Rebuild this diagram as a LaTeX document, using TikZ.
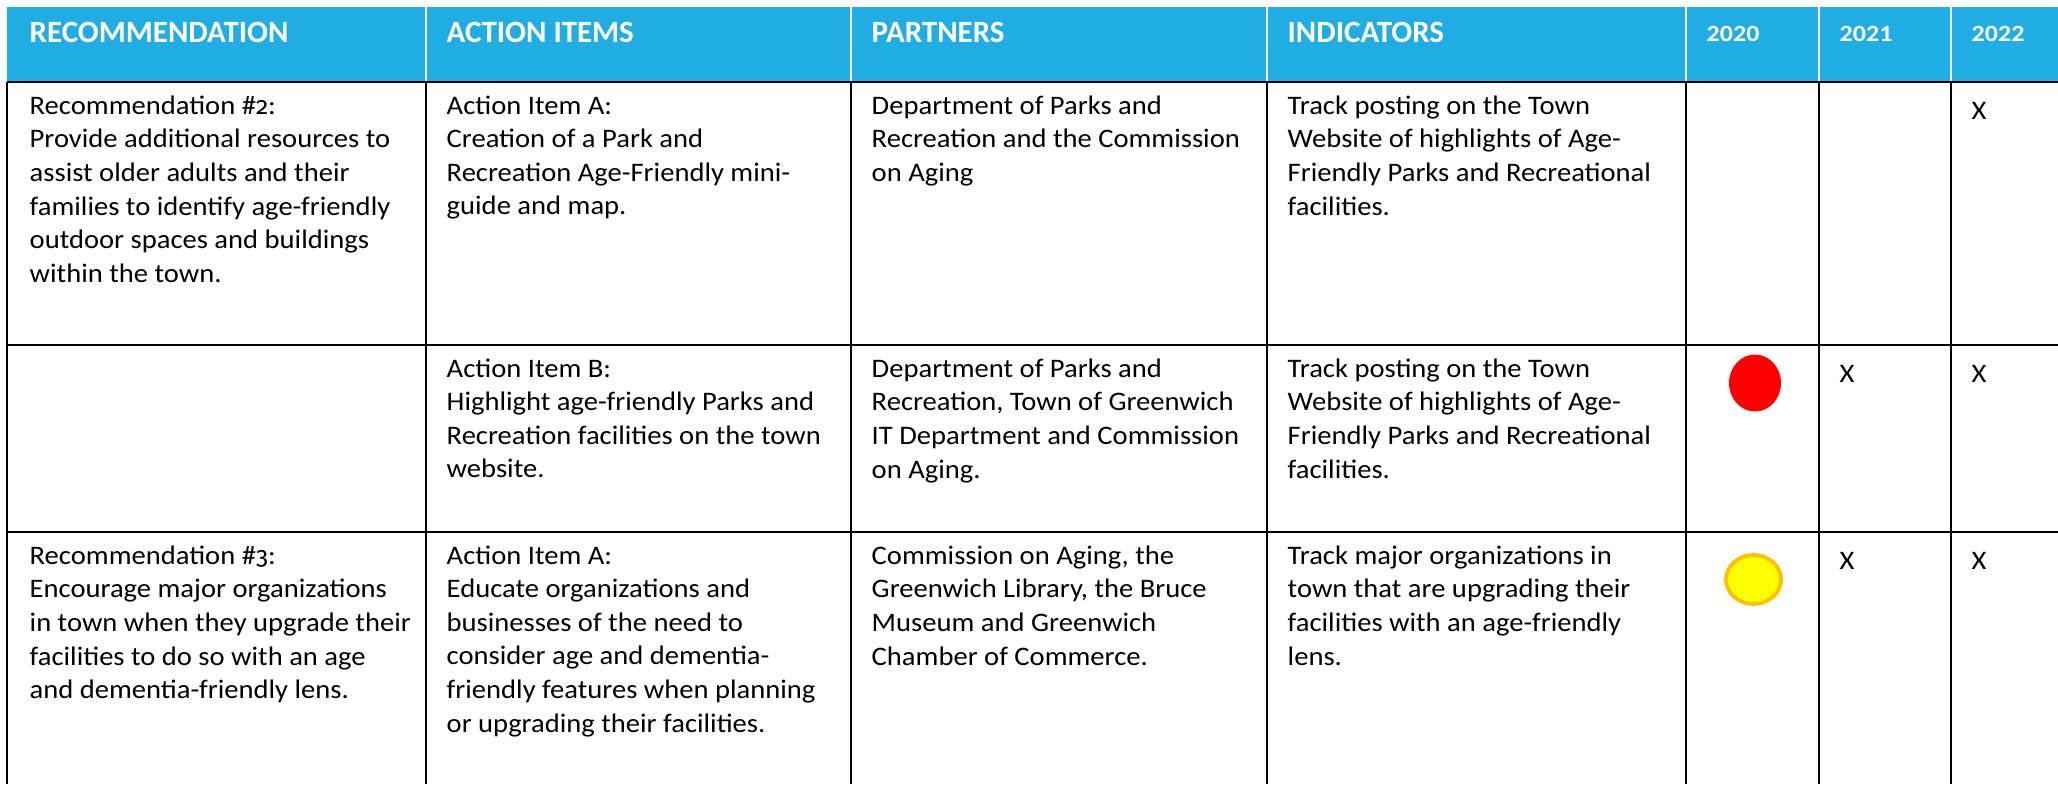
\documentclass[tikz,border=0pt]{standalone}
\usepackage{fontspec}
\setmainfont{Carlito}[FakeStretch=1.07]
\newfontfamily\headfont{Carlito}[Numbers=Lining]
\newfontfamily\yearfont{Carlito}[Numbers=Lining,FakeStretch=1.12]
\newfontfamily\oldnumfont{Fira Sans}[Numbers=OldStyle,Scale=0.92]
\newcommand{\recnum}[1]{{\oldnumfont #1}}
\definecolor{headblue}{HTML}{1FADE3}
\definecolor{dotred}{HTML}{FF0000}
\definecolor{dotyellow}{HTML}{FFFF00}
\definecolor{dotorange}{HTML}{FFC000}
\tikzset{
  cell/.style={anchor=north west, inner sep=0pt, align=left,
    font=\fontsize{7.6pt}{9.55pt}\selectfont, execute at begin node=\strut},
  head/.style={anchor=base west, inner sep=0pt, text=white,
    font=\headfont\bfseries\fontsize{8.8pt}{10pt}\selectfont},
  year/.style={anchor=base west, inner sep=0pt, text=white,
    font=\yearfont\bfseries\fontsize{6.6pt}{8pt}\selectfont},
  grid/.style={line width=0.6pt}
}
\begin{document}
\begin{tikzpicture}[x=0.01cm,y=-0.01cm]
\useasboundingbox (0,0) rectangle (2058,784);
\fill[headblue] (7,7) rectangle (2058,82);
\draw[white, line width=0.6pt] (426,7) -- (426,82);
\draw[white, line width=0.6pt] (851,7) -- (851,82);
\draw[white, line width=0.6pt] (1267,7) -- (1267,82);
\draw[white, line width=0.6pt] (1686,7) -- (1686,82);
\draw[white, line width=0.6pt] (1819,7) -- (1819,82);
\draw[white, line width=0.6pt] (1951,7) -- (1951,82);
\draw[grid] (7,82) -- (2058,82);
\draw[grid] (7,345) -- (2058,345);
\draw[grid] (7,532) -- (2058,532);
\draw[grid] (7,82) -- (7,784);
\draw[grid] (426,82) -- (426,784);
\draw[grid] (851,82) -- (851,784);
\draw[grid] (1267,82) -- (1267,784);
\draw[grid] (1686,82) -- (1686,784);
\draw[grid] (1819,82) -- (1819,784);
\draw[grid] (1951,82) -- (1951,784);
\node[head] (hrec) at (29,42) {RECOMMENDATION};
\node[head] (hact) at (446,42) {ACTION ITEMS};
\node[head] (hpart) at (871,42) {PARTNERS};
\node[head] (hind) at (1287,42) {INDICATORS};
\node[year] (h20) at (1706,41) {2020};
\node[year] (h21) at (1839,41) {2021};
\node[year] (h22) at (1971,41) {2022};
\node[cell] (rec2) at (29,95) {Recommendation \#\recnum{2}:\\Provide additional resources to\\assist older adults and their\\families to identify age-friendly\\outdoor spaces and buildings\\within the town.};
\node[cell] (act2a) at (446,95) {Action Item A:\\Creation of a Park and\\Recreation Age-Friendly mini-\\guide and map.};
\node[cell] (part2a) at (871,95) {Department of Parks and\\Recreation and the Commission\\on Aging};
\node[cell] (ind2a) at (1287,95) {Track posting on the Town\\Website of highlights of Age-\\Friendly Parks and Recreational\\facilities.};
\node[cell] (x2a22) at (1971,95) {X};
\node[cell] (act2b) at (446,358) {Action Item B:\\Highlight age-friendly Parks and\\Recreation facilities on the town\\website.};
\node[cell] (part2b) at (871,358) {Department of Parks and\\Recreation, Town of Greenwich\\IT Department and Commission\\on Aging.};
\node[cell] (ind2b) at (1287,358) {Track posting on the Town\\Website of highlights of Age-\\Friendly Parks and Recreational\\facilities.};
\fill[dotred] (1755,383) ellipse [x radius=26, y radius=28.5];
\node[cell] (x2b21) at (1839,358) {X};
\node[cell] (x2b22) at (1971,358) {X};
\node[cell] (rec3) at (29,545) {Recommendation \#\recnum{3}:\\Encourage major organizations\\in town when they upgrade their\\facilities to do so with an age\\and dementia-friendly lens.};
\node[cell] (act3a) at (446,545) {Action Item A:\\Educate organizations and\\businesses of the need to\\consider age and dementia-\\friendly features when planning\\or upgrading their facilities.};
\node[cell] (part3a) at (871,545) {Commission on Aging, the\\Greenwich Library, the Bruce\\Museum and Greenwich\\Chamber of Commerce.};
\node[cell] (ind3a) at (1287,545) {Track major organizations in\\town that are upgrading their\\facilities with an age-friendly\\lens.};
\draw[dotorange, fill=dotyellow, line width=1.1pt] (1753.5,579.5) ellipse [x radius=27.5, y radius=24.5];
\node[cell] (x3a21) at (1839,545) {X};
\node[cell] (x3a22) at (1971,545) {X};
\end{tikzpicture}
\end{document}
